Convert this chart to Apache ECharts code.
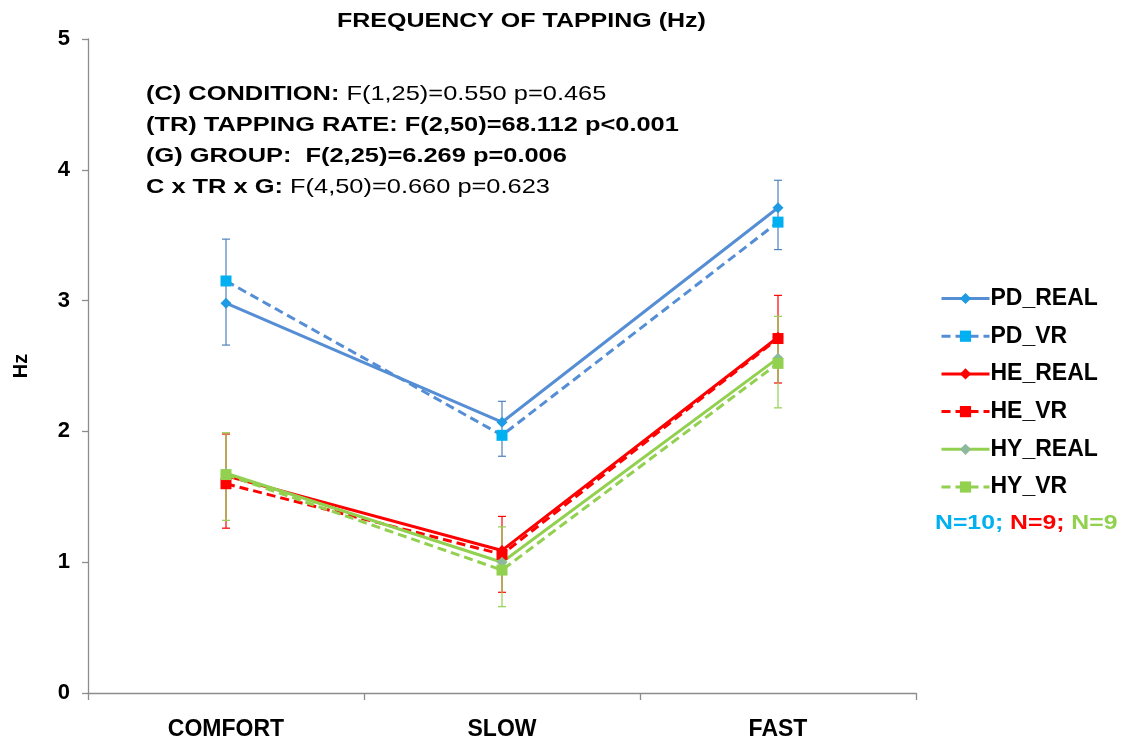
<!DOCTYPE html>
<html>
<head>
<meta charset="utf-8">
<script src="https://cdn.jsdelivr.net/npm/echarts@6/dist/echarts.min.js"></script>
<style>
html,body{margin:0;padding:0;background:#fff;}
#chart{width:1124px;height:744px;}
</style>
</head>
<body>
<div id="chart"></div>
<script>
var categories = ['COMFORT', 'SLOW', 'FAST'];
var yTicks = [0, 1, 2, 3, 4, 5];

var pdReal = [2.98, 2.07, 3.71];
var pdVr   = [3.15, 1.97, 3.60];
var heReal = [1.66, 1.09, 2.72];
var heVr   = [1.60, 1.06, 2.71];
var hyReal = [1.68, 1.00, 2.56];
var hyVr   = [1.67, 0.94, 2.52];

var pdErrLow  = [2.66, 1.81, 3.39];
var pdErrHigh = [3.47, 2.23, 3.92];
var heErrLow  = [1.26, 0.77, 2.37];
var heErrHigh = [1.98, 1.35, 3.04];
var hyErrLow  = [1.32, 0.66, 2.18];
var hyErrHigh = [1.99, 1.27, 2.88];

var FONT = '"Liberation Sans", Arial, sans-serif';

function errSeries(name, low, high, color) {
  var data = categories.map(function (c, i) { return [i, low[i], high[i]]; });
  return {
    type: 'custom',
    name: name,
    data: data,
    z: 1,
    silent: true,
    encode: { x: 0, y: [1, 2] },
    renderItem: function (params, api) {
      var i = api.value(0);
      var lo = api.coord([i, api.value(1)]);
      var hi = api.coord([i, api.value(2)]);
      var w = 4;
      var st = { stroke: color, lineWidth: 1.2 };
      return {
        type: 'group',
        children: [
          { type: 'line', shape: { x1: lo[0], y1: lo[1], x2: hi[0], y2: hi[1] }, style: st },
          { type: 'line', shape: { x1: lo[0] - w, y1: lo[1], x2: lo[0] + w, y2: lo[1] }, style: st },
          { type: 'line', shape: { x1: hi[0] - w, y1: hi[1], x2: hi[0] + w, y2: hi[1] }, style: st }
        ]
      };
    }
  };
}

function lineSeries(name, data, lineColor, markColor, symbol, dashed) {
  return {
    type: 'line',
    name: name,
    data: data,
    z: 3,
    symbol: symbol,
    symbolSize: 11,
    showAllSymbol: true,
    lineStyle: { color: lineColor, width: 3, type: dashed ? [9, 5] : 'solid' },
    itemStyle: { color: markColor, borderWidth: 0 },
    emphasis: { disabled: true }
  };
}

var chart = echarts.init(document.getElementById('chart'), null, { renderer: 'canvas' });

var option = {
  backgroundColor: '#ffffff',
  animation: false,
  textStyle: { fontFamily: FONT },
  grid: { left: 88, right: 208, top: 39, bottom: 51, containLabel: false },
  xAxis: {
    type: 'category',
    data: categories,
    boundaryGap: true,
    axisLine: { lineStyle: { color: '#8c8c8c', width: 1.3 } },
    axisTick: { show: true, length: 7, inside: false, lineStyle: { color: '#8c8c8c', width: 1.3 } },
    axisLabel: { margin: 25, fontFamily: FONT, fontSize: 23, fontWeight: 'bold', color: '#000' },
    splitLine: { show: false }
  },
  yAxis: {
    type: 'value',
    min: yTicks[0],
    max: yTicks[yTicks.length - 1],
    interval: 1,
    name: 'Hz',
    nameLocation: 'middle',
    nameGap: 57,
    nameRotate: 90,
    nameTextStyle: { fontFamily: FONT, fontSize: 20, fontWeight: 'bold', color: '#000' },
    axisLine: { show: true, lineStyle: { color: '#8c8c8c', width: 1.3 } },
    axisTick: { show: true, length: 6, lineStyle: { color: '#8c8c8c', width: 1.3 } },
    axisLabel: { margin: 18, fontFamily: FONT, fontSize: 22, fontWeight: 'bold', color: '#000' },
    splitLine: { show: false }
  },
  legend: {
    orient: 'vertical',
    left: 935,
    top: 282,
    itemWidth: 48,
    itemHeight: 14,
    itemGap: 14.7,
    data: ['PD_REAL', 'PD_VR', 'HE_REAL', 'HE_VR', 'HY_REAL', 'HY_VR'],
    lineStyle: { width: 3 },
    textStyle: { fontFamily: FONT, fontSize: 23, fontWeight: 'bold', color: '#000', lineHeight: 23, padding: [0, 0, 0, -4] }
  },
  graphic: [
    {
      type: 'text',
      x: 337,
      y: 11,
      scaleX: 1.19,
      style: {
        text: 'FREQUENCY OF TAPPING (Hz)',
        fontFamily: FONT, fontSize: 21, fontWeight: 'bold', fill: '#000',
        textAlign: 'left', textVerticalAlign: 'top'
      }
    },
    {
      type: 'text',
      x: 146,
      y: 79,
      scaleX: 1.21,
      style: {
        text: '{b|(C) CONDITION: }{r|F(1,25)=0.550 p=0.465}\n' +
              '{b|(TR) TAPPING RATE: F(2,50)=68.112 p<0.001}\n' +
              '{b|(G) GROUP:  F(2,25)=6.269 p=0.006}\n' +
              '{b|C x TR x G: }{r|F(4,50)=0.660 p=0.623}',
        textAlign: 'left', textVerticalAlign: 'top',
        rich: {
          b: { fontFamily: FONT, fontSize: 21, fontWeight: 'bold', fill: '#000', lineHeight: 31 },
          r: { fontFamily: FONT, fontSize: 21, fontWeight: 'normal', fill: '#000', lineHeight: 31 }
        }
      }
    },
    {
      type: 'text',
      x: 935,
      y: 513,
      scaleX: 1.18,
      style: {
        text: '{a|N=10; }{c|N=9; }{d|N=9}',
        textAlign: 'left', textVerticalAlign: 'top',
        rich: {
          a: { fontFamily: FONT, fontSize: 21, fontWeight: 'bold', fill: '#00B0F0' },
          c: { fontFamily: FONT, fontSize: 21, fontWeight: 'bold', fill: '#FF0000' },
          d: { fontFamily: FONT, fontSize: 21, fontWeight: 'bold', fill: '#92D050' }
        }
      }
    }
  ],
  series: [
    errSeries('PD_ERR', pdErrLow, pdErrHigh, '#4F81BD'),
    errSeries('HE_ERR', heErrLow, heErrHigh, '#FF0000'),
    errSeries('HY_ERR', hyErrLow, hyErrHigh, '#92D050'),
    lineSeries('PD_REAL', pdReal, '#558ED5', '#1E9BE3', 'diamond', false),
    lineSeries('PD_VR', pdVr, '#558ED5', '#00B0F0', 'rect', true),
    lineSeries('HE_REAL', heReal, '#FF0000', '#FF0000', 'diamond', false),
    lineSeries('HE_VR', heVr, '#FF0000', '#FF0000', 'rect', true),
    lineSeries('HY_REAL', hyReal, '#92D050', '#8DB89C', 'diamond', false),
    lineSeries('HY_VR', hyVr, '#92D050', '#92D050', 'rect', true)
  ]
};
chart.setOption(option);
</script>
</body>
</html>
